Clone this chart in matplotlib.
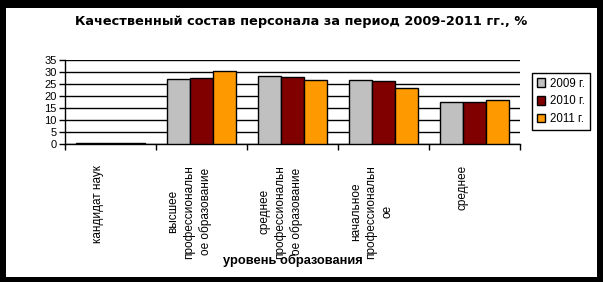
import matplotlib
matplotlib.use("Agg")
import matplotlib.pyplot as plt
import matplotlib.transforms as mtransforms
from matplotlib.patches import Rectangle
import numpy as np

categories = ["кандидат наук",
              "высшее\nпрофессиональн\nое образование",
              "среднее\nпрофессиональн\nое образование",
              "начальное\nпрофессиональн\nое",
              "среднее"]
series_names = ["2009 г.", "2010 г.", "2011 г."]
v2009 = [0.4, 27.1, 28.3, 26.7, 17.3]
v2010 = [0.4, 27.6, 27.9, 26.3, 17.7]
v2011 = [0.4, 30.4, 26.7, 23.4, 18.5]
yticks = [0, 5, 10, 15, 20, 25, 30, 35]
colors = ["#C0C0C0", "#800000", "#FF9900"]

W, H = 603, 282
fig = plt.figure(figsize=(W / 100, H / 100), dpi=100, facecolor="black")
fig.patches.append(Rectangle((6 / W, 5 / H), (597 - 6) / W, (277 - 8) / H,
                             transform=fig.transFigure, facecolor="white",
                             edgecolor="none", zorder=-10))

ax = fig.add_axes([65 / W, 1 - 144 / H, (520 - 65) / W, (144 - 60) / H])
ax.set_facecolor("none")

x = np.arange(len(categories))
bw = 0.255
for i, (vals, name, c) in enumerate(zip([v2009, v2010, v2011], series_names, colors)):
    ax.bar(x + (i - 1) * bw, vals, width=bw, color=c, edgecolor="black",
           linewidth=1.0, label=name, zorder=3)

ax.set_xlim(-0.5, len(categories) - 0.5)
ax.set_ylim(0, 35)
ax.set_yticks(yticks)
ax.yaxis.grid(True, color="black", linewidth=1.0, zorder=0)
ax.set_axisbelow(True)
for s in ["top", "right"]:
    ax.spines[s].set_visible(False)
ax.spines["left"].set_linewidth(1.0)
ax.spines["bottom"].set_linewidth(1.0)

ax.tick_params(axis="y", direction="out", length=4, width=1, pad=2,
               labelsize=8, labelfontfamily="Liberation Sans")
# category boundary ticks
ax.set_xticks(np.arange(-0.5, len(categories)), minor=False)
ax.set_xticklabels([])
ax.tick_params(axis="x", which="major", direction="out", length=4, width=1)
ax.set_xticks(x, minor=True)
ax.set_xticklabels(categories, minor=True, rotation=90, fontsize=8.5,
                   family="Liberation Sans", va="top", ha="center",
                   multialignment="center", linespacing=1.4)
ax.tick_params(axis="x", which="minor", length=0, pad=15)
offset = mtransforms.ScaledTranslation(-12 / 100, 0, fig.dpi_scale_trans)
for lab in ax.get_xticklabels(minor=True):
    lab.set_transform(lab.get_transform() + offset)

fig.text(301 / W, 1 - 22 / H, "Качественный состав персонала за период 2009-2011 гг., %",
         ha="center", va="center", fontsize=9.3, fontweight="bold",
         family="DejaVu Sans")
fig.text(293 / W, 1 - 260 / H, "уровень образования", ha="center", va="center",
         fontsize=9.3, fontweight="bold", family="Liberation Sans")

leg = ax.legend(loc="upper left", bbox_to_anchor=(532 / W, 1 - 73 / H),
                bbox_transform=fig.transFigure, borderaxespad=0,
                fancybox=False, framealpha=1, edgecolor="black",
                prop={"family": "Liberation Sans", "size": 8.3},
                handlelength=0.75, handleheight=0.75, handletextpad=0.45,
                labelspacing=0.5, borderpad=0.4)
leg.get_frame().set_linewidth(1.0)

fig.savefig("out.png", dpi=100, facecolor="black")
